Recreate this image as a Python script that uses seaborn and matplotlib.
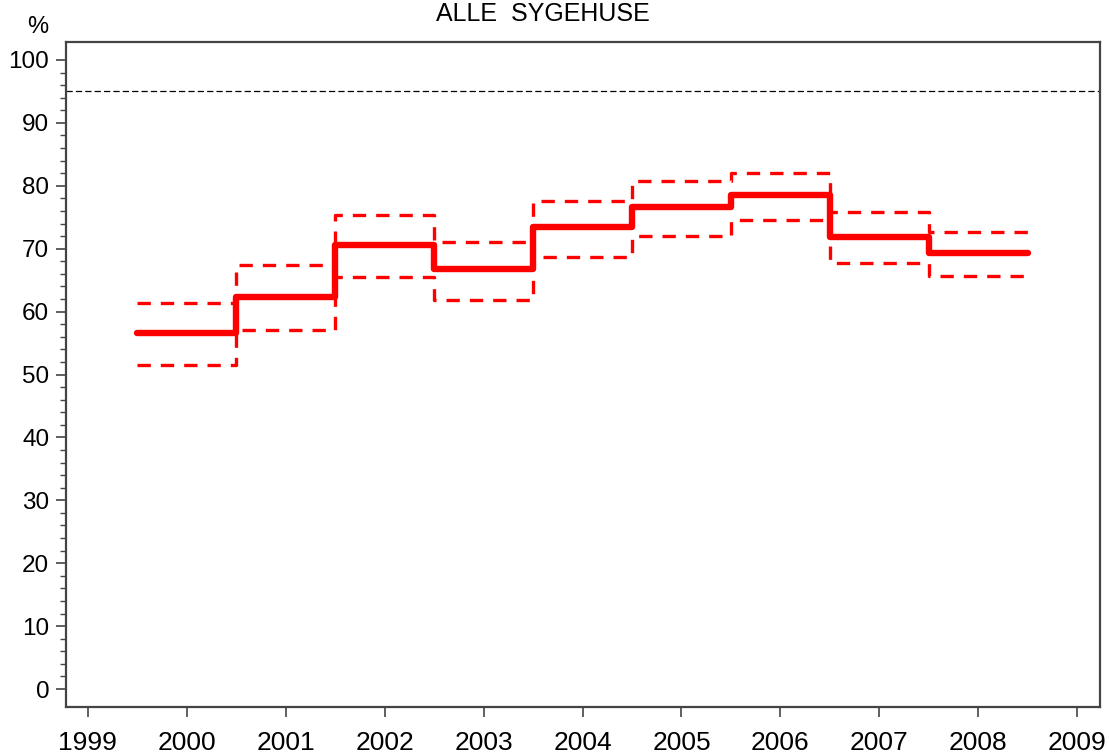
import numpy as np
import pandas as pd
import matplotlib
matplotlib.use("Agg")
import matplotlib.pyplot as plt
import seaborn as sns

# ==========================================================
# Data
# ==========================================================
years = [2000, 2001, 2002, 2003, 2004, 2005, 2006, 2007, 2008]
pct = [56.6, 62.4, 70.6, 66.7, 73.4, 76.7, 78.6, 71.9, 69.3]
upper = [61.4, 67.4, 75.4, 71.1, 77.6, 80.7, 82.1, 75.8, 72.6]
lower = [51.5, 57.1, 65.5, 61.8, 68.7, 72.0, 74.6, 67.8, 65.7]
target = 95
xticks = list(range(1999, 2010))
yticks = list(range(0, 101, 10))
title = "ALLE  SYGEHUSE"


def step_frame(vals):
    # each year is a flat step from year-0.5 to year+0.5
    x = [y - 0.5 for y in years] + [years[-1] + 0.5]
    v = list(vals) + [vals[-1]]
    return pd.DataFrame({"year": x, "value": v})


sns.set_style("ticks")
plt.rcParams["font.family"] = ["Liberation Sans", "DejaVu Sans"]
plt.rcParams["text.color"] = "black"
plt.rcParams["xtick.labelcolor"] = "black"
plt.rcParams["ytick.labelcolor"] = "black"

fig = plt.figure(figsize=(11.09, 7.53), dpi=100)
ax = fig.add_axes([66 / 1109, 1 - 707 / 753, (1100 - 66) / 1109, (707 - 42) / 753])

red = "#ff0000"
for vals in (upper, lower):
    sns.lineplot(data=step_frame(vals), x="year", y="value", ax=ax,
                 drawstyle="steps-post", color=red, linewidth=2.4,
                 dashes=False, linestyle=(0, (4, 3)))
sns.lineplot(data=step_frame(pct), x="year", y="value", ax=ax,
             drawstyle="steps-post", color=red, linewidth=4.6,
             solid_capstyle="round")

ax.axhline(target, color="black", linewidth=0.9, linestyle=(0, (5, 2.5)))

ax.set_xlim(1998.78, 2009.23)
ax.set_ylim(-2.86, 102.86)
ax.set_xticks(xticks)
ax.set_yticks(yticks)
ax.set_yticks(np.arange(0, 101, 2), minor=True)
ax.set_xlabel("")
ax.set_ylabel("")

for s in ax.spines.values():
    s.set_visible(True)
    s.set_color("#444444")
    s.set_linewidth(1.6)

ax.tick_params(axis="x", length=7, width=1.2, pad=10, labelsize=19, color="#444444")
ax.tick_params(axis="y", which="major", length=7, width=1.2, pad=5, labelsize=17.5, color="#444444")
ax.tick_params(axis="y", which="minor", length=4, width=1.0, color="#444444")

fig.text(38 / 1109, 1 - 27 / 753, "%", ha="center", va="center", fontsize=17)
# reference title is clipped at the top edge; keep it just inside
fig.text(543 / 1109, 1 - 21 / 753, title, ha="center", va="baseline", fontsize=18)

fig.savefig("out.png", dpi=100)
